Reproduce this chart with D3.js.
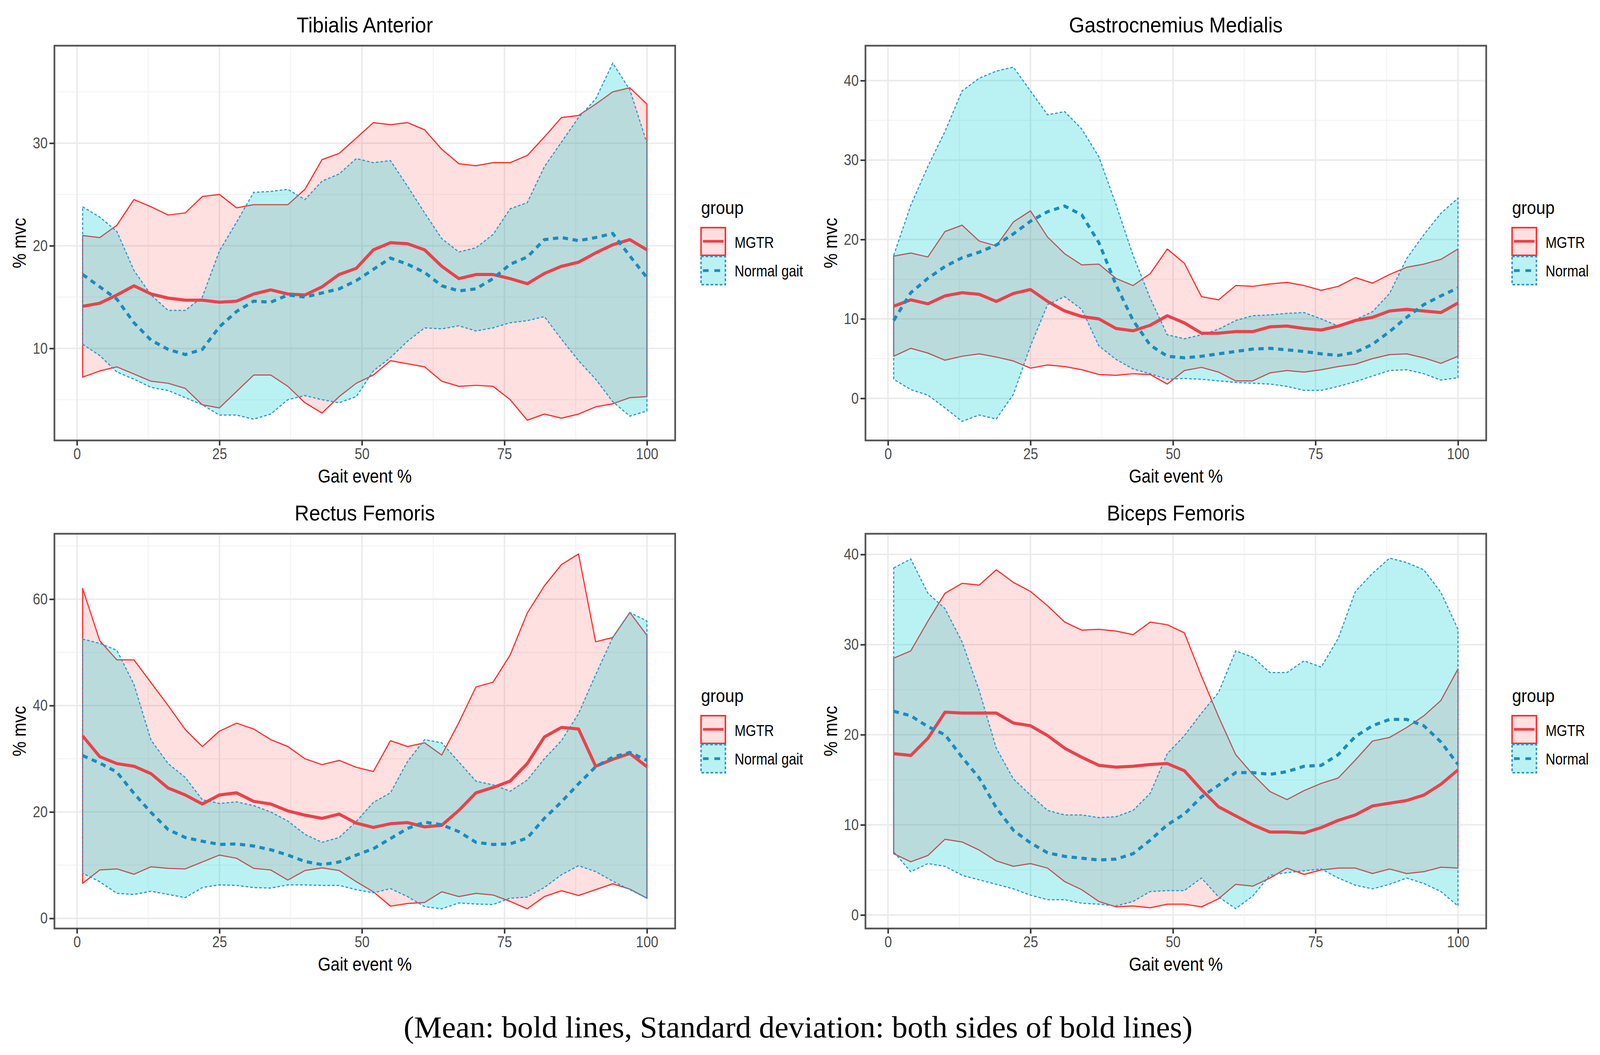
<!DOCTYPE html>
<html>
<head>
<meta charset="utf-8">
<script src="https://cdnjs.cloudflare.com/ajax/libs/d3/7.8.5/d3.min.js"></script>
<style>
  html, body { margin: 0; padding: 0; overflow: hidden; background: #fff; }
  svg { display: block; }
</style>
</head>
<body>
<div id="chart"></div>
<script>
// gait event %, shared by every series
var gait = [1,4,7,10,13,16,19,22,25,28,31,34,37,40,43,46,49,52,55,58,61,64,67,70,73,76,79,82,85,88,91,94,97,100];

// Tibialis Anterior
var taMgtrMean  = [14.1,14.4,15.2,16.1,15.3,14.9,14.7,14.7,14.5,14.6,15.3,15.7,15.3,15.2,16.0,17.2,17.8,19.6,20.3,20.2,19.6,18.0,16.8,17.2,17.2,16.8,16.3,17.3,18.0,18.4,19.3,20.1,20.6,19.6];
var taMgtrUpper = [21.0,20.8,22.0,24.5,23.8,23.0,23.2,24.8,25.0,23.7,24.0,24.0,24.0,25.5,28.4,29.0,30.5,32.0,31.8,32.0,31.3,29.4,28.0,27.8,28.1,28.1,28.8,30.6,32.5,32.7,33.8,35.0,35.4,33.8];
var taMgtrLower = [7.2,7.8,8.2,7.5,6.8,6.6,6.1,4.5,4.2,5.8,7.4,7.4,6.3,4.7,3.7,5.3,6.6,7.4,8.8,8.5,8.2,6.8,6.3,6.4,6.3,5.0,3.0,3.6,3.2,3.6,4.3,4.6,5.2,5.3];
var taNormMean  = [17.2,16.0,14.8,12.5,10.8,9.9,9.4,9.9,12.1,13.6,14.6,14.5,15.2,15.0,15.4,15.8,16.6,17.7,18.8,18.2,17.4,16.1,15.6,15.8,16.8,18.2,18.9,20.6,20.8,20.5,20.8,21.2,19.0,16.9];
var taNormUpper = [23.8,22.8,21.4,17.6,15.2,13.7,13.7,15.0,19.5,22.3,25.2,25.3,25.5,24.5,26.3,27.0,28.5,28.1,28.3,25.8,23.2,20.7,19.4,19.8,21.1,23.6,24.2,27.7,30.1,32.5,34.3,37.8,35.2,30.0];
var taNormLower = [10.4,9.3,7.7,7.0,6.2,5.9,5.2,4.5,3.5,3.5,3.1,3.6,5.0,5.4,5.0,4.7,5.3,7.8,9.1,10.7,12.0,11.9,12.2,11.7,12.0,12.5,12.7,13.1,10.9,8.8,7.0,4.8,3.4,3.9];

// Gastrocnemius Medialis
var gmMgtrMean  = [11.6,12.4,11.9,12.9,13.3,13.1,12.2,13.2,13.7,12.2,11.0,10.3,10.0,8.8,8.5,9.2,10.4,9.5,8.2,8.2,8.4,8.4,9.0,9.1,8.8,8.6,9.1,9.8,10.2,11.0,11.2,11.0,10.8,12.0];
var gmMgtrUpper = [17.9,18.3,17.8,21.0,21.8,19.8,19.2,22.2,23.6,20.3,18.2,16.8,16.9,15.1,14.2,15.7,18.8,17.0,12.8,12.4,14.2,14.1,14.4,14.6,14.2,13.6,14.1,15.2,14.5,15.6,16.5,16.9,17.5,18.8];
var gmMgtrLower = [5.3,6.3,5.7,4.8,5.3,5.6,5.2,4.7,3.8,4.2,4.0,3.6,3.0,2.9,3.1,3.0,1.8,3.5,3.9,3.3,2.2,2.2,3.2,3.5,3.3,3.6,4.0,4.3,5.0,5.5,5.6,5.1,4.4,5.3];
var gmNormMean  = [9.8,13.3,15.1,16.6,17.7,18.4,19.3,20.7,22.3,23.5,24.2,23.1,19.6,14.3,9.8,6.7,5.3,5.1,5.3,5.6,5.9,6.2,6.3,6.1,5.9,5.6,5.4,5.8,6.8,8.4,10.2,11.8,12.9,13.9];
var gmNormUpper = [18.0,24.3,29.2,33.6,38.7,40.3,41.2,41.7,38.7,35.7,36.1,33.9,30.4,24.4,18.0,12.6,8.0,7.5,8.0,8.7,9.8,10.4,10.5,10.7,10.8,10.0,9.1,9.9,10.9,13.2,17.6,20.6,23.3,25.2];
var gmNormLower = [2.4,1.1,0.4,-1.2,-2.9,-2.1,-2.6,0.5,6.6,11.8,12.8,11.2,6.6,4.9,3.7,3.1,2.4,2.5,2.4,2.2,2.0,1.9,1.8,1.5,1.0,1.0,1.5,2.1,2.8,3.5,3.6,3.1,2.3,2.6];

// Rectus Femoris
var rfMgtrMean  = [34.3,30.4,29.1,28.6,27.2,24.5,23.2,21.5,23.2,23.6,22.0,21.5,20.2,19.4,18.8,19.6,17.9,17.1,17.8,18.0,17.2,17.5,20.3,23.6,24.6,25.8,29.1,34.1,35.9,35.6,28.6,29.9,31.0,28.5];
var rfMgtrUpper = [62.0,52.2,48.6,48.6,44.3,40.0,35.5,32.3,35.2,36.7,35.6,33.6,32.3,30.0,28.9,29.7,28.4,27.6,33.4,32.3,33.0,30.7,36.8,43.5,44.4,49.5,57.4,62.5,66.5,68.5,52.0,52.8,57.5,53.2];
var rfMgtrLower = [6.6,9.1,9.3,8.3,9.7,9.4,9.3,10.6,11.9,11.3,9.4,9.1,7.2,9.0,9.5,9.0,6.9,5.0,2.3,2.8,3.0,5.0,4.1,4.7,4.4,3.2,1.8,4.1,5.2,4.3,5.4,6.5,5.5,3.8];
var rfNormMean  = [30.6,29.2,27.5,23.5,19.9,16.7,15.2,14.5,13.9,14.0,13.6,12.9,11.9,10.7,10.1,10.6,11.9,13.1,15.0,16.9,18.1,17.6,16.3,14.3,13.9,14.0,15.1,18.8,21.9,25.3,28.5,30.3,31.2,29.7];
var rfNormUpper = [52.5,51.7,50.4,44.0,33.5,29.1,26.5,22.3,21.6,21.9,21.2,20.0,18.3,15.8,14.3,15.2,18.2,21.8,23.6,29.5,33.6,33.0,29.4,25.8,25.1,23.9,26.0,30.0,33.4,38.5,45.8,52.8,57.5,55.9];
var rfNormLower = [8.5,6.9,4.7,4.5,5.1,4.5,3.9,5.8,6.3,6.2,5.8,5.7,6.3,6.3,6.2,6.2,5.4,4.8,5.6,4.1,2.2,1.8,2.9,2.7,2.6,3.8,4.0,5.8,8.2,9.9,8.8,7.0,5.4,3.8];

// Biceps Femoris
var bfMgtrMean  = [17.9,17.7,19.6,22.5,22.4,22.4,22.4,21.3,21.0,19.9,18.5,17.5,16.6,16.4,16.5,16.7,16.8,16.0,13.9,12.0,11.0,10.0,9.2,9.2,9.1,9.7,10.5,11.1,12.1,12.4,12.7,13.3,14.5,16.1];
var bfMgtrUpper = [28.5,29.3,32.6,35.7,36.8,36.6,38.3,36.9,35.9,34.3,32.5,31.6,31.7,31.5,31.1,32.5,32.2,31.3,26.5,22.0,17.8,15.6,13.7,12.8,13.8,14.6,15.2,17.2,19.3,19.7,20.8,22.1,23.8,27.3];
var bfMgtrLower = [6.8,5.9,6.6,8.4,8.1,7.2,6.0,5.4,5.7,5.2,3.7,2.8,1.5,0.9,1.0,0.8,1.2,1.2,0.9,1.8,3.4,3.2,4.1,5.2,4.5,5.0,5.2,5.2,4.6,5.1,4.6,4.8,5.3,5.2];
var bfNormMean  = [22.6,22.1,20.9,20.0,17.5,15.2,11.9,9.4,8.0,6.9,6.5,6.3,6.1,6.2,6.8,8.3,10.0,11.2,13.1,14.4,15.8,15.8,15.6,15.9,16.5,16.6,17.8,19.8,21.0,21.7,21.7,21.0,19.2,16.7];
var bfNormUpper = [38.5,39.5,35.7,34.0,30.3,24.9,18.5,15.1,13.3,11.6,11.1,11.1,10.8,10.9,11.6,13.5,17.9,19.9,22.4,24.7,29.3,28.6,26.9,26.9,28.2,27.5,30.7,35.9,37.9,39.6,39.1,38.3,35.8,31.7];
var bfNormLower = [7.0,4.8,5.7,5.4,4.4,3.9,3.4,2.9,2.2,1.7,1.7,1.3,1.2,1.0,1.5,2.6,2.7,2.7,4.1,2.0,0.7,2.1,4.4,4.7,4.9,5.1,4.1,3.3,2.9,3.4,4.1,3.5,2.6,1.0];

// titles, ticks, legend labels
var muscles = ["Tibialis Anterior", "Gastrocnemius Medialis", "Rectus Femoris", "Biceps Femoris"];
var xTicks = [0, 25, 50, 75, 100];
var xMinor = [12.5, 37.5, 62.5, 87.5];
var yTicksList = [[10, 20, 30], [0, 10, 20, 30, 40], [0, 20, 40, 60], [0, 10, 20, 30, 40]];
var yMinorList = [[5, 15, 25, 35], [-5, 5, 15, 25, 35], [10, 30, 50, 70], [5, 15, 25, 35]];
var legendLabels = [["MGTR", "Normal gait"], ["MGTR", "Normal"], ["MGTR", "Normal gait"], ["MGTR", "Normal"]];
var caption = "(Mean: bold lines, Standard deviation: both sides of bold lines)";

// drawing is laid out on the reference's 4204 x 2702 grid, then fitted to the window
var svgWidth = 4204;
var svgHeight = 2702;
var panelW = 1631;
var panelH = 1011;
var squeeze = 0.88;   // the reference text is a little narrow

var redLine = "#e8434c", redEdge = "#ff2d2d", redFill = "#ff0000";
var blueLine = "#1a8cbf", blueEdge = "#2f98cc", blueFill = "#00ced1";

var svg = d3.select("#chart")
    .append("svg")
    .attr("width", window.innerWidth || svgWidth)
    .attr("height", window.innerHeight || svgHeight)
    .attr("viewBox", `0 0 ${svgWidth} ${svgHeight}`)
    .attr("preserveAspectRatio", "none")
    .style("font-family", "'Liberation Sans', Arial, sans-serif");

svg.append("rect").attr("width", svgWidth).attr("height", svgHeight).attr("fill", "#fff");

function addText(sel, x, y, str, size, anchor, rotate, sx) {
    var tr = `translate(${x},${y})` + (rotate ? ` rotate(${rotate})` : "") + ` scale(${sx || squeeze},1)`;
    return sel.append("text")
        .attr("transform", tr)
        .attr("text-anchor", anchor || "start")
        .attr("font-size", size)
        .attr("fill", "#000")
        .text(str);
}

var panels = [
    { left: 143,  top: 117,  yDomain: [1.03, 39.5],  series: [taMgtrLower, taMgtrMean, taMgtrUpper, taNormLower, taNormMean, taNormUpper] },
    { left: 2274, top: 117,  yDomain: [-5.3, 44.4],  series: [gmMgtrLower, gmMgtrMean, gmMgtrUpper, gmNormLower, gmNormMean, gmNormUpper] },
    { left: 143,  top: 1367, yDomain: [-1.9, 72.3],  series: [rfMgtrLower, rfMgtrMean, rfMgtrUpper, rfNormLower, rfNormMean, rfNormUpper] },
    { left: 2274, top: 1367, yDomain: [-1.5, 42.3],  series: [bfMgtrLower, bfMgtrMean, bfMgtrUpper, bfNormLower, bfNormMean, bfNormUpper] }
];

panels.forEach(function(p, k) {
    var g = svg.append("g").attr("transform", `translate(${p.left}, ${p.top})`);

    var xScale = d3.scaleLinear().domain([-3.95, 104.95]).range([0, panelW]);
    var yScale = d3.scaleLinear().domain(p.yDomain).range([panelH, 0]);

    // minor grid then major grid
    g.selectAll(".xminor").data(xMinor).enter().append("line")
        .attr("x1", d => xScale(d)).attr("x2", d => xScale(d))
        .attr("y1", 0).attr("y2", panelH)
        .attr("stroke", "#f3f3f3").attr("stroke-width", 2.5);
    g.selectAll(".yminor").data(yMinorList[k]).enter().append("line")
        .attr("x1", 0).attr("x2", panelW)
        .attr("y1", d => yScale(d)).attr("y2", d => yScale(d))
        .attr("stroke", "#f3f3f3").attr("stroke-width", 2.5);
    g.selectAll(".xmajor").data(xTicks).enter().append("line")
        .attr("x1", d => xScale(d)).attr("x2", d => xScale(d))
        .attr("y1", 0).attr("y2", panelH)
        .attr("stroke", "#ebebeb").attr("stroke-width", 4);
    g.selectAll(".ymajor").data(yTicksList[k]).enter().append("line")
        .attr("x1", 0).attr("x2", panelW)
        .attr("y1", d => yScale(d)).attr("y2", d => yScale(d))
        .attr("stroke", "#ebebeb").attr("stroke-width", 4);

    var s = p.series;
    var ribbon = function(lower, upper) {
        return d3.area()
            .x((d, i) => xScale(gait[i]))
            .y0((d, i) => yScale(lower[i]))
            .y1((d, i) => yScale(upper[i]))(gait);
    };
    var meanLine = d3.line()
        .x((d, i) => xScale(gait[i]))
        .y(d => yScale(d));

    // MGTR ribbon
    g.append("path")
        .attr("d", ribbon(s[0], s[2]))
        .attr("fill", redFill).attr("fill-opacity", 0.12)
        .attr("stroke", redEdge).attr("stroke-width", 3)
        .attr("stroke-linejoin", "round");
    // Normal ribbon
    g.append("path")
        .attr("d", ribbon(s[3], s[5]))
        .attr("fill", blueFill).attr("fill-opacity", 0.27)
        .attr("stroke", blueEdge).attr("stroke-width", 3)
        .attr("stroke-dasharray", "7,5");
    // means
    g.append("path")
        .attr("d", meanLine(s[1]))
        .attr("fill", "none").attr("stroke", redLine).attr("stroke-width", 8)
        .attr("stroke-linejoin", "round");
    g.append("path")
        .attr("d", meanLine(s[4]))
        .attr("fill", "none").attr("stroke", blueLine).attr("stroke-width", 8)
        .attr("stroke-dasharray", "14,12");

    // border
    g.append("rect")
        .attr("width", panelW).attr("height", panelH)
        .attr("fill", "none").attr("stroke", "#555").attr("stroke-width", 4.5);

    // axes
    var bottomAxis = d3.axisBottom(xScale).tickValues(xTicks).tickSize(13).tickPadding(7);
    var leftAxis = d3.axisLeft(yScale).tickValues(yTicksList[k]).tickSize(13).tickPadding(7);

    var xa = g.append("g").attr("transform", `translate(0, ${panelH})`).call(bottomAxis);
    var ya = g.append("g").call(leftAxis);
    [xa, ya].forEach(function(a) {
        a.select(".domain").remove();
        a.selectAll(".tick line").attr("stroke", "#333").attr("stroke-width", 4);
        a.selectAll(".tick text")
            .attr("font-size", 40)
            .attr("font-family", "'Liberation Sans', Arial, sans-serif")
            .attr("fill", "#4d4d4d")
            .attr("transform", `scale(${squeeze},1)`);
    });

    // titles
    addText(g, panelW / 2, -34, muscles[k], 56, "middle", 0, 0.94);
    addText(g, panelW / 2, panelH + 108, "Gait event %", 49, "middle");
    addText(g, -75, panelH / 2, "% mvc", 49, "middle", -90);

    // legend
    var lg = svg.append("g").attr("transform", `translate(${p.left + 1699}, ${p.top})`);
    addText(lg, 0, 431, "group", 47, "start", 0, 0.93);
    // MGTR key
    lg.append("rect").attr("x", 0).attr("y", 466).attr("width", 64).attr("height", 71)
        .attr("fill", redFill).attr("fill-opacity", 0.12)
        .attr("stroke", redEdge).attr("stroke-width", 4);
    lg.append("line").attr("x1", 5).attr("x2", 59).attr("y1", 501).attr("y2", 501)
        .attr("stroke", redLine).attr("stroke-width", 7);
    // Normal key
    lg.append("rect").attr("x", 0).attr("y", 540).attr("width", 64).attr("height", 72)
        .attr("fill", blueFill).attr("fill-opacity", 0.27)
        .attr("stroke", blueEdge).attr("stroke-width", 4)
        .attr("stroke-dasharray", "7,5");
    lg.append("line").attr("x1", 5).attr("x2", 59).attr("y1", 576).attr("y2", 576)
        .attr("stroke", blueLine).attr("stroke-width", 7)
        .attr("stroke-dasharray", "15,15");
    addText(lg, 88, 518, legendLabels[k][0], 40, "start");
    addText(lg, 88, 591, legendLabels[k][1], 40, "start");
});

// caption under the figure, fitted to the width it has in the reference
var cap = svg.append("text")
    .attr("font-family", "'Liberation Serif', 'DejaVu Serif', serif")
    .attr("font-size", 78)
    .attr("text-anchor", "middle")
    .attr("fill", "#000")
    .text(caption);
var capW = cap.node().getComputedTextLength();
cap.attr("transform", `translate(2097, 2657) scale(${2073 / capW},1)`);
</script>
</body>
</html>
